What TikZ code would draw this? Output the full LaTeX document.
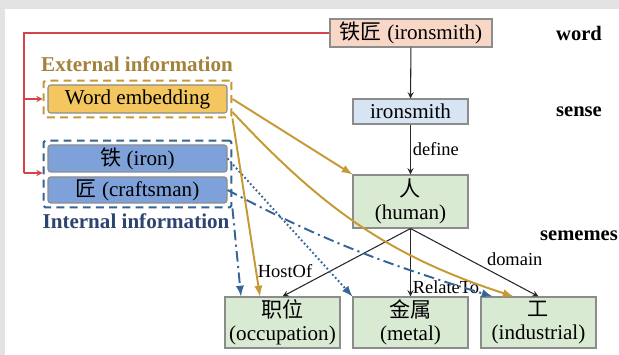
\documentclass[tikz,border=0pt]{standalone}
\usepackage{fontspec}
\setmainfont{Liberation Serif}
\newfontfamily\cjk{Noto Sans CJK SC}
\usetikzlibrary{arrows, positioning, fit}
\definecolor{wordfill}{HTML}{F9D7C7}
\definecolor{sensefill}{HTML}{D6E4F4}
\definecolor{semfill}{HTML}{D9EAD3}
\definecolor{embfill}{HTML}{F3C65F}
\definecolor{charfill}{HTML}{7EA1D9}
\definecolor{gold}{HTML}{C69A33}
\definecolor{extcol}{HTML}{A3823C}
\definecolor{dblue}{HTML}{356597}
\definecolor{intcol}{HTML}{2E4470}
\definecolor{redln}{HTML}{D8434B}
\definecolor{framecol}{HTML}{E3E3E3}
\tikzset{
	box/.style={
		draw=black!45,
		line width=0.6pt,
		align=center,
		inner sep=1pt,
		font=\fontsize{12}{13}\selectfont
	},
	inbox/.style={
		box,
		rounded corners=1.5pt,
		minimum width=3.58cm
	},
	grp/.style={
		draw,
		dash pattern=on 4.5pt off 3pt,
		line width=1.2pt,
		inner sep=2.2pt,
		rounded corners=1pt
	},
	rel/.style={
		->,
		>=stealth,
		line width=0.6pt,
		black!85
	},
	lbl/.style={
		font=\fontsize{10.5}{12}\selectfont,
		inner sep=1pt,
		text=black
	},
	lvl/.style={
		font=\fontsize{11.7}{14}\selectfont\bfseries
	},
	info/.style={
		font=\fontsize{12}{14}\selectfont\bfseries
	},
	redl/.style={
		line width=0.6pt,
		redln,
		>=stealth
	},
	goldarr/.style={
		-latex,
		line width=1.1pt,
		gold
	},
	bluearr/.style={
		-latex,
		line width=1.1pt,
		dblue
	},
	dashdot/.style={
		dash pattern=on 6pt off 2.5pt on 1.2pt off 2.5pt
	}
}

\begin{document}
\begin{tikzpicture}[thick]
\useasboundingbox (0,0) rectangle (12.38,7.10);
\fill[framecol] (0,0) rectangle (12.38,7.10);
\fill[white] (0.1,0) rectangle (12.38,6.92);

% word, sense, sememes
\node[box, fill=wordfill, minimum width=3.24cm, minimum height=0.56cm] (W) at (8.22,6.44) {{\cjk 铁匠} (ironsmith)};
\node[box, fill=sensefill, minimum width=2.3cm, minimum height=0.5cm] (S) at (8.21,4.87) {ironsmith};
\node[box, fill=semfill, minimum width=2.3cm, minimum height=1.06cm] (H) at (8.21,3.07) {{\cjk 人}\\(human)};
\foreach \n/\x/\cn/\en in {O/5.65/职位/occupation, M/8.21/金属/metal, I/10.77/工/industrial} {
	\node[box, fill=semfill, minimum width=2.3cm, minimum height=1.02cm] (\n) at (\x,0.65) {{\cjk \cn}\\(\en)};
}

\foreach \t/\y in {word/6.44, sense/4.86, sememes/2.38} {
	\node[lvl] (L\t) at (11.58,\y) {\t};
}

% information sources
\node[inbox, fill=embfill, minimum height=0.56cm] (emb) at (2.75,5.12) {Word embedding};
\node[inbox, fill=charfill, minimum height=0.54cm] (iron) at (2.75,3.93) {{\cjk 铁} (iron)};
\node[inbox, fill=charfill, minimum height=0.52cm] (craft) at (2.75,3.30) {{\cjk 匠} (craftsman)};
\node[grp, draw=gold, fit=(emb)] (ext) {};
\node[grp, draw=dblue, fit=(iron)(craft)] (int) {};
\node[info, text=extcol] (extlbl) at (2.74,5.82) {External information};
\node[info, text=intcol] (intlbl) at (2.72,2.68) {Internal information};

% red links
\coordinate (rtop) at (0.48,6.44);
\coordinate (rbot) at (0.48,3.64);
\draw[redl] (W.west) -- (rtop) -- (rbot);
\draw[redl, ->] (rbot) -- (int.west |- rbot);
\draw[redl, ->] (rtop |- emb) -- (ext.west |- emb);

% hierarchy
\draw[rel] (W) -- (S);
\draw[rel] (S) -- node[right, lbl] {define} (H);
\draw[rel] (H.south) -- node[pos=0.75, above left, lbl] {HostOf} (O.north);
\draw[rel] (H.south) -- node[pos=0.87, right, lbl] {RelateTo} (M.north);
\draw[rel] (H.south) -- node[pos=0.58, above right, lbl] {domain} (I.north);

% internal information
\draw[bluearr, dashdot] (int.south east) -- ([xshift=-0.83cm]O.north);
\draw[bluearr, dash pattern=on 1pt off 1.4pt] (iron.east) -- (M.north west);
\draw[bluearr, dashdot] (craft.east) to[out=-28, in=163] ([xshift=0.24cm]I.north west);

% external information
\draw[goldarr] (ext.east) -- (H.north west);
\draw[goldarr] ([yshift=-0.26cm]ext.east) to[out=-47, in=162] ([xshift=-0.5cm]I.north);
\draw[goldarr] (ext.south east) -- ([xshift=-0.45cm]O.north);
\end{tikzpicture}
\end{document}
